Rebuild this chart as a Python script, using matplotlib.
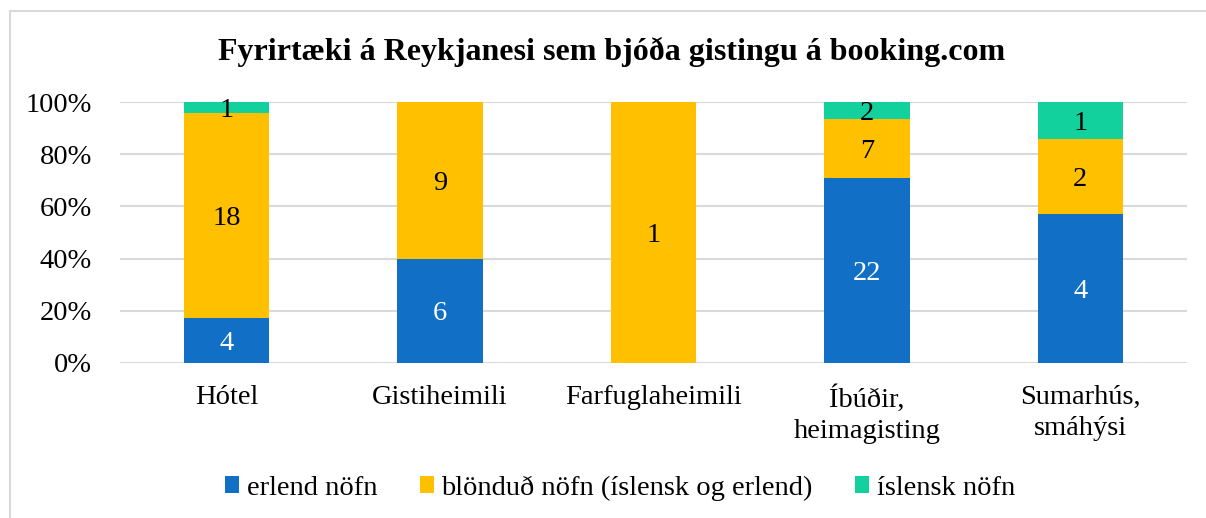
import matplotlib
matplotlib.use("Agg")
import matplotlib.pyplot as plt
import numpy as np

categories = ["Hótel", "Gistiheimili", "Farfuglaheimili", "Íbúðir,\nheimagisting", "Sumarhús,\nsmáhýsi"]
erlend = [4, 6, 0, 22, 4]
blondud = [18, 9, 1, 7, 2]
islensk = [1, 0, 0, 2, 1]
series_names = ["erlend nöfn", "blönduð nöfn (íslensk og erlend)", "íslensk nöfn"]
colors = ["#1170C6", "#FFC000", "#13D19D"]
label_colors = ["white", "black", "black"]
title = "Fyrirtæki á Reykjanesi sem bjóða gistingu á booking.com"

plt.rcParams['font.family'] = ['Liberation Serif', 'DejaVu Serif']

W, H = 1206, 518
fig = plt.figure(figsize=(W/100, H/100), dpi=100)
ax = fig.add_axes([120/W, 1-363/H, (1187-120)/W, (363-102)/H])

data = np.array([erlend, blondud, islensk], dtype=float)
totals = data.sum(axis=0)
pct = data / totals
x = np.arange(len(categories))
bottom = np.zeros(len(categories))
fs = 20.5
for i in range(3):
    ax.bar(x, pct[i], 0.4, bottom=bottom, color=colors[i], label=series_names[i], zorder=3)
    for j in range(len(categories)):
        if data[i, j] > 0:
            ax.text(x[j], bottom[j] + pct[i, j]/2, f"{int(data[i, j])}", ha='center', va='center_baseline',
                    color=label_colors[i], fontsize=fs, zorder=4)
    bottom += pct[i]

ax.set_xlim(-0.5, len(categories)-0.5)
ax.set_ylim(0, 1)
ax.set_yticks(np.arange(0, 1.01, 0.2))
ax.set_yticklabels([f"{int(round(v*100))}%" for v in np.arange(0, 1.01, 0.2)], fontsize=fs)
ax.set_xticks(x)
ax.set_xticklabels(categories, fontsize=fs, linespacing=1.3)
ax.tick_params(axis='both', length=0)
ax.tick_params(axis='y', pad=20)
ax.tick_params(axis='x', pad=16)
for s in ax.spines.values():
    s.set_visible(False)
ax.yaxis.grid(True, color='#D9D9D9', linewidth=1.5, zorder=0)
ax.set_axisbelow(True)

fig.text(612/W, 1-52/H, title, ha='center', va='center', fontsize=23, fontweight='bold')

leg = fig.legend(loc='center', bbox_to_anchor=(620/W, 1-488/H), ncol=3, frameon=False,
                 fontsize=fs, handlelength=0.5, handleheight=0.55, handletextpad=0.25, columnspacing=1.5)

# outer frame (top and left visible)
fig.add_artist(plt.Line2D([10/W, 10/W], [0, 1-11/H], color='#D9D9D9', lw=1.5, transform=fig.transFigure))
fig.add_artist(plt.Line2D([10/W, 1], [1-11/H, 1-11/H], color='#D9D9D9', lw=1.5, transform=fig.transFigure))

fig.savefig("out.png", dpi=100)
